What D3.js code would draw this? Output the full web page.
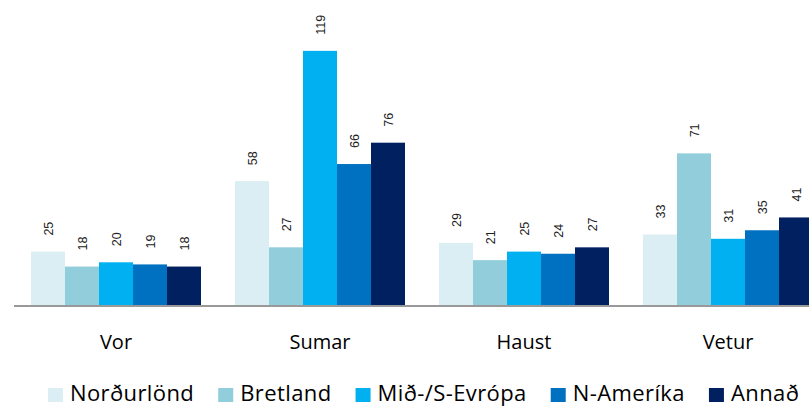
<!DOCTYPE html>
<html>
  <head>
    <meta charset="utf-8" />
    <title>season bars</title>
    <script src="https://cdn.jsdelivr.net/npm/d3@7"></script>
    <style>
      body { margin: 0; background: #fff; }
    </style>
  </head>
  <body>
    <svg width="809" height="406" id="mainsvg"></svg>
    <script>
      // data
      const seasons = ["Vor", "Sumar", "Haust", "Vetur"];
      const markets = ["Norðurlönd", "Bretland", "Mið-/S-Evrópa", "N-Ameríka", "Annað"];
      const colors = ["#DAEEF3", "#92CDDC", "#00B0F0", "#0070C0", "#002060"];
      const nordurlond = [25, 58, 29, 33];
      const bretland = [18, 27, 21, 71];
      const midEvropa = [20, 119, 25, 31];
      const nAmerika = [19, 66, 24, 35];
      const annad = [18, 76, 27, 41];
      const series = [nordurlond, bretland, midEvropa, nAmerika, annad];

      const svg = d3.select("#mainsvg");
      const baseY = 305;

      const x = d3.scaleBand().domain(seasons).range([14, 830]).paddingInner(1 / 6).paddingOuter(1 / 12);
      const xs = d3.scaleBand().domain(markets).range([0, x.bandwidth()]);
      const y = d3.scaleLinear().domain([0, 140]).range([baseY, 6]);
      const color = d3.scaleOrdinal().domain(markets).range(colors);

      const rows = [];
      seasons.forEach((s, i) => {
        markets.forEach((m, j) => rows.push({ season: s, market: m, value: series[j][i] }));
      });

      const g = svg.append("g");

      g.selectAll(".bar")
        .data(rows)
        .join("rect")
        .attr("class", "bar")
        .attr("x", (d) => x(d.season) + xs(d.market))
        .attr("y", (d) => y(d.value))
        .attr("width", xs.bandwidth())
        .attr("height", (d) => baseY - y(d.value))
        .attr("fill", (d) => color(d.market));

      // 数值标签, 竖排
      g.selectAll(".lbl")
        .data(rows)
        .join("text")
        .attr("class", "lbl")
        .attr("transform", (d) => `translate(${x(d.season) + xs(d.market) + xs.bandwidth() / 2},${y(d.value) - 16}) rotate(-90)`)
        .attr("dy", "0.4em")
        .attr("text-anchor", "start")
        .attr("font-family", "Liberation Sans, Arial, sans-serif")
        .attr("font-size", 12.5)
        .attr("fill", "#222")
        .text((d) => d.value);

      // x axis line
      svg.append("line")
        .attr("x1", 14).attr("x2", 809)
        .attr("y1", baseY + 1).attr("y2", baseY + 1)
        .attr("stroke", "#999").attr("stroke-width", 2);

      // categories
      svg.selectAll(".cat")
        .data(seasons)
        .join("text")
        .attr("class", "cat")
        .attr("x", (d) => x(d) + x.bandwidth() / 2)
        .attr("y", 349)
        .attr("text-anchor", "middle")
        .attr("font-family", "Open Sans, sans-serif")
        .attr("font-size", 20)
        .attr("fill", "#000")
        .text((d) => d);

      // legend
      const legend = svg.append("g");
      let lx = 48;
      markets.forEach((m) => {
        const item = legend.append("g").attr("transform", `translate(${lx},0)`);
        item.append("rect").attr("x", 0).attr("y", 388).attr("width", 15).attr("height", 14).attr("fill", color(m));
        const t = item.append("text")
          .attr("x", 22).attr("y", 401)
          .attr("font-family", "Open Sans, sans-serif")
          .attr("font-size", 22)
          .attr("letter-spacing", 0.4)
          .attr("fill", "#000")
          .text(m);
        lx += 22 + t.node().getComputedTextLength() + 24;
      });
    </script>
  </body>
</html>
